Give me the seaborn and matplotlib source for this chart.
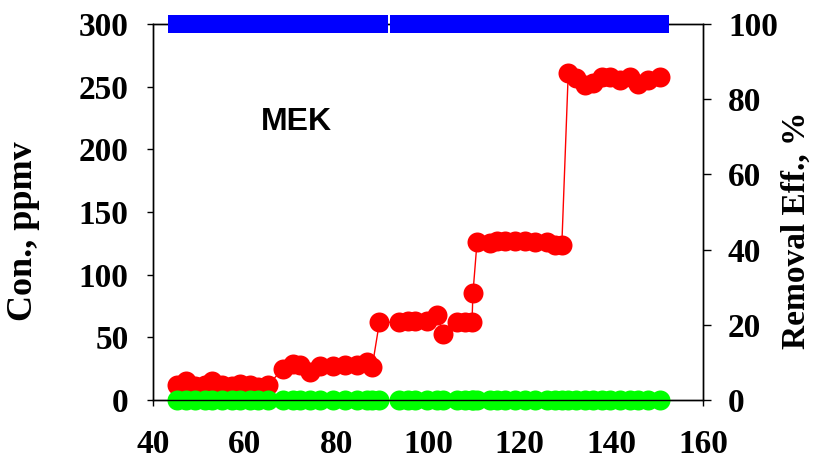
import matplotlib
matplotlib.use("Agg")
import matplotlib.pyplot as plt
import seaborn as sns

# Operating days and MEK concentrations (inlet, ppmv), outlet concentrations, removal efficiency
days = [45.2, 47.2, 49.2, 51.3, 52.9, 55.1, 57.2, 59.0, 61.2, 62.9, 65.1,
        68.4, 70.5, 72.1, 74.2, 76.4, 79.3, 81.9, 84.5, 86.7, 87.8,
        89.4, 93.6, 95.6, 97.2, 99.8, 102.0, 103.3, 106.3, 108.1, 109.6, 109.8,
        110.7, 113.5, 115.1, 116.8, 119.0, 121.2, 123.4, 126.0, 127.7, 129.2,
        130.6, 132.3, 134.3, 136.0, 138.0, 139.7, 141.9, 144.1, 145.8, 148.0, 150.6]
inlet_ppmv = [12, 15, 11, 12, 15, 12, 11, 13, 12, 10, 12,
              25, 29, 28, 22, 27, 27, 28, 28, 30, 26,
              62, 62, 63, 63, 63, 68, 53, 62, 62, 62, 85,
              126, 125, 127, 127, 127, 127, 126, 126, 124, 124,
              261, 257, 251, 253, 258, 258, 255, 258, 252, 255, 258]
outlet_ppmv = [0] * len(days)
removal_pct = [100] * len(days)

x_ticks = [40, 60, 80, 100, 120, 140, 160]
left_ticks = [0, 50, 100, 150, 200, 250, 300]
right_ticks = [0, 20, 40, 60, 80, 100]

sns.set_style("white")
plt.rcParams["font.family"] = ["Liberation Serif", "DejaVu Serif"]
plt.rcParams["font.weight"] = "bold"
plt.rcParams["text.color"] = "black"
plt.rcParams["axes.labelcolor"] = "black"
plt.rcParams["xtick.color"] = "black"
plt.rcParams["ytick.color"] = "black"

fig = plt.figure(figsize=(8.17, 4.61), dpi=100)
ax = fig.add_axes([153 / 817, 1 - 400 / 461, 550 / 817, 376 / 461])

sns.lineplot(x=days, y=inlet_ppmv, ax=ax, color="#ff0000", linewidth=1.0,
             marker="o", markersize=14.4, markeredgewidth=0, estimator=None,
             sort=True, zorder=3, clip_on=False)
sns.lineplot(x=days, y=outlet_ppmv, ax=ax, color="#00ff00", linestyle="",
             marker="o", markersize=14.4, markeredgewidth=0, estimator=None,
             zorder=4, clip_on=False)

ax.set_xlim(40, 160)
ax.set_ylim(0, 300)
ax.set_xticks(x_ticks)
ax.set_yticks(left_ticks)
ax.set_ylabel("Con., ppmv", fontsize=26, fontweight="bold")
ax.yaxis.set_label_coords(-0.205, 0.45)
ax.set_xlabel("")
ax.text(71.4, 222, "MEK", fontsize=23, fontweight="bold",
        family=["Liberation Sans", "DejaVu Sans"], ha="center", va="center")

ax2 = ax.twinx()
sns.lineplot(x=days, y=removal_pct, ax=ax2, color="#0000ff", linestyle="",
             marker="s", markersize=13.3, markeredgewidth=0, estimator=None,
             zorder=5, clip_on=False)
ax2.set_ylim(0, 100)
ax2.set_yticks(right_ticks)
ax2.set_ylabel("Removal Eff., %", fontsize=24, fontweight="bold")
ax2.yaxis.set_label_coords(1.142, 0.45)

for a in (ax, ax2):
    for sp in a.spines.values():
        sp.set_visible(True)
        sp.set_color("black")
        sp.set_linewidth(1.0)
    a.tick_params(labelsize=24, colors="black", width=1.0)
    for lab in a.get_xticklabels() + a.get_yticklabels():
        lab.set_fontweight("bold")

ax.tick_params(axis="y", direction="out", length=4.5, pad=13, left=True)
ax.tick_params(axis="x", direction="out", length=4, pad=17, bottom=True)
ax2.tick_params(axis="y", direction="out", length=6, pad=12, right=True)

fig.savefig("out.png", dpi=100)
